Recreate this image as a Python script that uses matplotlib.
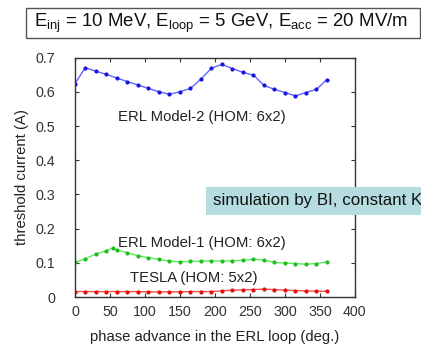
import matplotlib.pyplot as plt
from matplotlib.patches import Rectangle

plt.rcParams["font.family"] = ["Liberation Sans", "DejaVu Sans"]
plt.rcParams["mathtext.fontset"] = "custom"
plt.rcParams["mathtext.rm"] = "Liberation Sans"
plt.rcParams["mathtext.it"] = "Liberation Sans"

# phase advance (deg.)
phase = [0, 15, 30, 45, 60, 75, 90, 105, 120, 135, 150, 165, 180,
         195, 210, 225, 240, 255, 270, 285, 300, 315, 330, 345, 360]
phase_m1 = [0, 15, 30, 45, 54, 60, 75, 90, 105, 120, 135, 150, 165, 180,
            195, 210, 225, 240, 255, 270, 285, 300, 315, 330, 345, 360]

# threshold current (A)
erl_model2 = [0.624, 0.671, 0.660, 0.651, 0.640, 0.630, 0.620, 0.610, 0.600,
              0.593, 0.600, 0.610, 0.637, 0.669, 0.680, 0.668, 0.657, 0.649,
              0.619, 0.607, 0.598, 0.588, 0.598, 0.607, 0.636]
erl_model1 = [0.101, 0.112, 0.126, 0.136, 0.143, 0.138, 0.129, 0.121, 0.115,
              0.110, 0.105, 0.103, 0.104, 0.105, 0.106, 0.105, 0.106, 0.108,
              0.110, 0.108, 0.101, 0.099, 0.098, 0.096, 0.098, 0.103]
tesla = [0.016, 0.016, 0.016, 0.016, 0.016, 0.016, 0.016, 0.015, 0.015,
         0.015, 0.015, 0.016, 0.016, 0.016, 0.018, 0.020, 0.021, 0.022,
         0.023, 0.022, 0.020, 0.019, 0.018, 0.017, 0.017]

fig = plt.figure(figsize=(4.21, 3.45), dpi=100)
ax = fig.add_axes([0.178, 0.139, 0.665, 0.694])

ax.plot(phase, erl_model2, color="#6464ff", lw=1.0, marker="o", ms=2.0,
        mfc="#1515e0", mec="#1515e0")
ax.plot(phase_m1, erl_model1, color="#5cee5c", lw=1.0, marker="o", ms=2.0,
        mfc="#22bb22", mec="#22bb22")
ax.plot(phase, tesla, color="#ff4a4a", lw=1.0, marker="o", ms=2.0,
        mfc="#dd1010", mec="#dd1010")

ax.text(61, 0.525, "ERL Model-2 (HOM: 6x2)", fontsize=10.7, color="#222222", va="center")
ax.text(61, 0.158, "ERL Model-1 (HOM: 6x2)", fontsize=10.7, color="#222222", va="center")
ax.text(79, 0.055, "TESLA (HOM: 5x2)", fontsize=10.7, color="#222222", va="center")

ax.set_xlim(0, 400)
ax.set_ylim(0, 0.7)
ax.set_xticks(range(0, 401, 50))
ax.set_yticks([0, 0.1, 0.2, 0.3, 0.4, 0.5, 0.6, 0.7])
ax.set_yticklabels(["0", "0.1", "0.2", "0.3", "0.4", "0.5", "0.6", "0.7"])
ax.tick_params(direction="in", length=3, top=True, right=True,
               labelsize=10.3, colors="#333333")
ax.tick_params(axis="y", pad=14)
ax.tick_params(axis="x", pad=6)
for sp in ax.spines.values():
    sp.set_color("#333333")
    sp.set_linewidth(1.0)

ax.set_xlabel("phase advance in the ERL loop (deg.)", fontsize=10.7, color="#222222", labelpad=8)
ax.set_ylabel("threshold current (A)", fontsize=10.7, color="#222222", labelpad=5)

# header box with beam parameters
W, H = 421, 345
fig.patches.append(Rectangle((26 / W, 1 - 38 / H), 394 / W, 30 / H,
                             transform=fig.transFigure, fc="white",
                             ec="#555555", lw=1.0))
fig.text(34 / W, 1 - 23 / H,
         r"E$_{\mathrm{inj}}$ = 10 MeV, E$_{\mathrm{loop}}$ = 5 GeV, E$_{\mathrm{acc}}$ = 20 MV/m",
         fontsize=13.4, color="#111111", va="center")

# simulation note
fig.patches.append(Rectangle((206 / W, 1 - 215 / H), 230 / W, 28 / H,
                             transform=fig.transFigure, fc="#b5dde0",
                             ec="none", zorder=5))
fig.text(213 / W, 1 - 201 / H, "simulation by BI, constant K",
         fontsize=12.2, color="#111111", va="center", zorder=6)

fig.savefig("out.png", dpi=100)
